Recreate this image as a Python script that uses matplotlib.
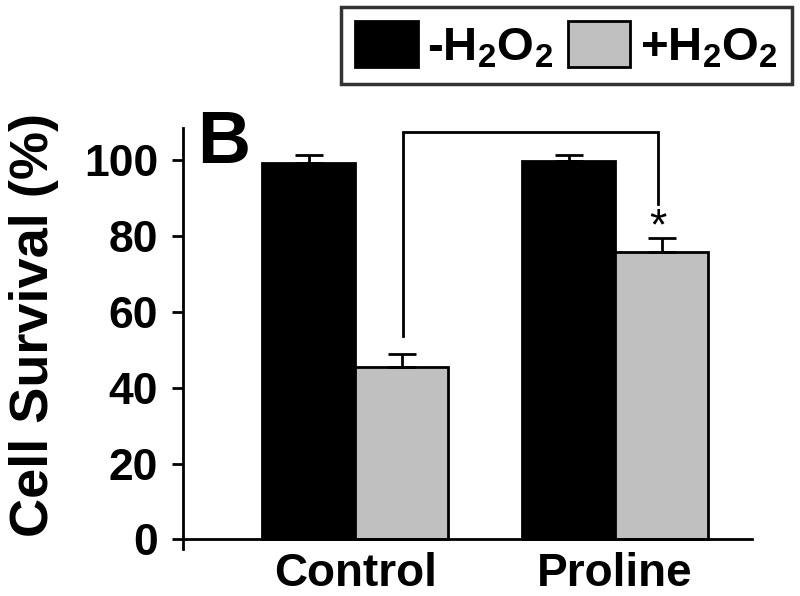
import numpy as np
import matplotlib
matplotlib.use('Agg')
import matplotlib.pyplot as plt
from matplotlib.patches import Patch

plt.rcParams['font.family'] = ['Liberation Sans', 'DejaVu Sans']
plt.rcParams['font.weight'] = 'bold'
plt.rcParams['mathtext.fontset'] = 'custom'
plt.rcParams['mathtext.rm'] = 'Liberation Sans:bold'
plt.rcParams['mathtext.default'] = 'rm'

# data
groups = ['Control', 'Proline']
minus_h2o2 = [99.2, 99.7]
minus_err = [2.0, 1.5]
plus_h2o2 = [45.5, 75.8]
plus_err = [3.5, 3.7]
series_labels = [r'-H$_{2}$O$_{2}$', r'+H$_{2}$O$_{2}$']
yticks = [0, 20, 40, 60, 80, 100]

fig = plt.figure(figsize=(8, 5.96), dpi=100)
ax = fig.add_axes([0.229, 0.079, 0.711, 0.706])

x = np.arange(len(groups))
w = 0.358
ax.bar(x - w / 2, minus_h2o2, w, color='black', edgecolor='black', linewidth=2)
ax.bar(x + w / 2, plus_h2o2, w, color='#c0c0c0', edgecolor='black', linewidth=2)
ax.errorbar(x - w / 2, minus_h2o2, yerr=[np.zeros(2), minus_err], fmt='none',
            ecolor='black', elinewidth=2, capsize=10, capthick=2)
ax.errorbar(x + w / 2, plus_h2o2, yerr=[np.zeros(2), plus_err], fmt='none',
            ecolor='black', elinewidth=2, capsize=10, capthick=2)

# significance bracket
xl = x[0] + w / 2 + 0.003
xr = x[1] + w / 2 - 0.014
ax.plot([xl, xl, xr, xr], [53.7, 107.4, 107.4, 88.4], color='black', lw=2,
        solid_joinstyle='miter', clip_on=False)
ax.text(xr, 82.0, '*', ha='center', va='center', fontsize=32, fontweight='normal')

ax.set_xlim(-0.662, 1.527)
ax.set_ylim(-2.5, 108.4)
ax.spines['top'].set_visible(False)
ax.spines['right'].set_visible(False)
ax.spines['bottom'].set_position(('data', 0))
ax.spines['left'].set_linewidth(2)
ax.spines['bottom'].set_linewidth(2)

ax.set_yticks(yticks)
ax.set_yticklabels([str(t) for t in yticks], fontsize=32, fontweight='bold')
ax.tick_params(axis='y', length=8, width=2, pad=10)
ax.set_xticks(x)
ax.set_xticklabels(groups, fontsize=33, fontweight='bold')
ax.tick_params(axis='x', length=0, pad=9)

ax.set_ylabel('Cell Survival (%)', fontsize=39, fontweight='bold')
ax.yaxis.set_label_coords(-0.218, 0.532)

fig.text(0.246, 1 - 163 / 596, 'B', fontsize=53, fontweight='bold', va='baseline')

handles = [Patch(facecolor='black', edgecolor='black', linewidth=2),
           Patch(facecolor='#c0c0c0', edgecolor='black', linewidth=2)]
leg = fig.legend(handles, series_labels, loc='upper right', bbox_to_anchor=(0.99, 0.988),
                 ncol=2, fontsize=34, frameon=True, fancybox=False, edgecolor='black',
                 handlelength=1.33, handleheight=1.1, handletextpad=0.2,
                 columnspacing=0.3, borderpad=0.3, borderaxespad=0)
leg.get_frame().set_linewidth(2.5)

fig.savefig('out.png', dpi=100)
